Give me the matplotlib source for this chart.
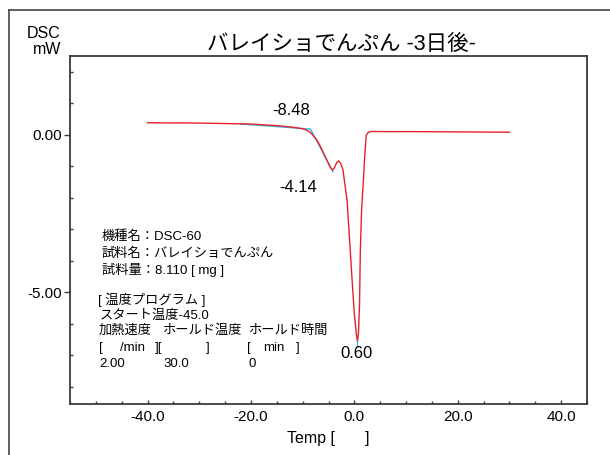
import numpy as np
import matplotlib
matplotlib.use('Agg')
import matplotlib.pyplot as plt
from matplotlib.ticker import MultipleLocator, FormatStrFormatter
from matplotlib.lines import Line2D

plt.rcParams['font.family'] = ['Liberation Sans', 'Noto Sans CJK JP', 'DejaVu Sans']

# DSC曲線 (温度 [℃], 熱流 [mW]) — 図から読み取った値
temp = [-40, -30, -20, -15, -12, -10, -9, -8.5, -8, -7.3, -6.7, -6.1, -5.2,
        -4.6, -4.2, -3.8, -3.4, -3.0, -2.6, -2.2, -1.8, -1.4, -0.9, -0.4,
        0.0, 0.4, 0.6, 0.8, 1.0, 1.16, 1.4, 1.8, 2.0, 2.3, 2.7, 3.3, 5, 10,
        20, 30]
dsc = [0.38, 0.37, 0.34, 0.29, 0.24, 0.19, 0.13, 0.07, -0.02, -0.16, -0.33,
       -0.53, -0.85, -1.05, -1.12, -1.03, -0.88, -0.83, -0.92, -1.12, -1.6,
       -2.1, -3.4, -4.7, -5.7, -6.35, -6.55, -6.3, -5.4, -3.66, -2.4, -1.3,
       -0.7, -0.02, 0.08, 0.105, 0.1, 0.1, 0.09, 0.08]

# 接線 (青)
tan_x = [-22, -8.48, -4.14]
tan_y = [0.34, 0.18, -1.17]

# ピーク値ラベル
peak_labels = ['-8.48', '-4.14', '0.60']
peak_x = [-12.3, -10.8, 0.44]
peak_y = [0.76, -1.69, -6.94]

xticks = [-40, -20, 0, 20, 40]
yticks = [-5, 0]

info_lines = ['機種名：DSC-60', '試料名：バレイショでんぷん', '試料量：8.110 [ mg ]']

W, H = 610, 455
fig = plt.figure(figsize=(W / 100, H / 100), dpi=100)
ax = fig.add_axes([70 / W, 1 - 404 / H, (587 - 70) / W, (404 - 56) / H])

ax.plot(temp, dsc, color='#e8202a', lw=1.0, zorder=3)
ax.plot(tan_x, tan_y, color='#3ab4e8', lw=1.0, zorder=2)
ax.plot([0.6, 0.6], [-6.55, -6.75], color='#3ab4e8', lw=1.0, zorder=2)

for lab, x, y in zip(peak_labels, peak_x, peak_y):
    ax.text(x, y, lab, ha='center', va='center', fontsize=12)

ax.set_xlim(-55, 45)
ax.set_ylim(-8.55, 2.5)
ax.set_xticks(xticks)
ax.set_yticks(yticks)
ax.xaxis.set_minor_locator(MultipleLocator(5))
ax.yaxis.set_minor_locator(MultipleLocator(1))
ax.xaxis.set_major_formatter(FormatStrFormatter('%.1f'))
ax.yaxis.set_major_formatter(FormatStrFormatter('%.2f'))

spine_c = '#3a3a3a'
for s in ax.spines.values():
    s.set_color(spine_c)
    s.set_linewidth(1.3)
ax.tick_params(axis='x', which='major', direction='in', length=3, width=1, color=spine_c, labelsize=11, pad=4)
ax.tick_params(axis='x', which='minor', direction='in', length=2, width=1, color=spine_c)
ax.tick_params(axis='y', which='major', direction='out', length=4, width=1, color=spine_c, labelsize=11, pad=2)
ax.tick_params(axis='y', which='minor', direction='in', length=2.5, width=1, color=spine_c)

def fx(px):
    return px / W

def fy(py):
    return 1 - py / H

# タイトル, 軸ラベル
fig.text(fx(341), fy(44), 'バレイショでんぷん -3日後-', ha='center', va='center', fontsize=15.5)
fig.text(fx(61), fy(33), 'DSC', ha='right', va='center', fontsize=11.5)
fig.text(fx(61), fy(50), 'mW', ha='right', va='center', fontsize=11.5)
fig.text(fx(287), fy(438), 'Temp [', ha='left', va='center', fontsize=11.5)
fig.text(fx(369), fy(438), ']', ha='right', va='center', fontsize=11.5)

# 測定条件
fs = 9.5
for i, line in enumerate(info_lines):
    fig.text(fx(102), fy(237 + i * 16.5), line, ha='left', va='center', fontsize=fs)
fig.text(fx(98), fy(300), '[ 温度プログラム ]', ha='left', va='center', fontsize=fs)
fig.text(fx(100), fy(316), 'スタート温度-45.0', ha='left', va='center', fontsize=fs)
row_cols = [99, 163, 249]
for x, s in zip(row_cols, ['加熱速度', 'ホールド温度', 'ホールド時間']):
    fig.text(fx(x), fy(331), s, ha='left', va='center', fontsize=fs)
for x, s in zip([99, 120, 155, 206, 247, 263, 296], ['[', '/min', '][', ']', '[', 'min', ']']):
    fig.text(fx(x), fy(348), s, ha='left', va='center', fontsize=fs)
for x, s in zip(row_cols, ['2.00', '30.0', '0']):
    fig.text(fx(x), fy(364), s, ha='left', va='center', fontsize=fs)

# 外枠
frame_c = '#444444'
fig.add_artist(Line2D([fx(9), fx(9)], [0, fy(10)], color=frame_c, lw=1.2))
fig.add_artist(Line2D([fx(9), 1], [fy(10), fy(10)], color=frame_c, lw=1.2))

fig.savefig('out.png', dpi=100)
